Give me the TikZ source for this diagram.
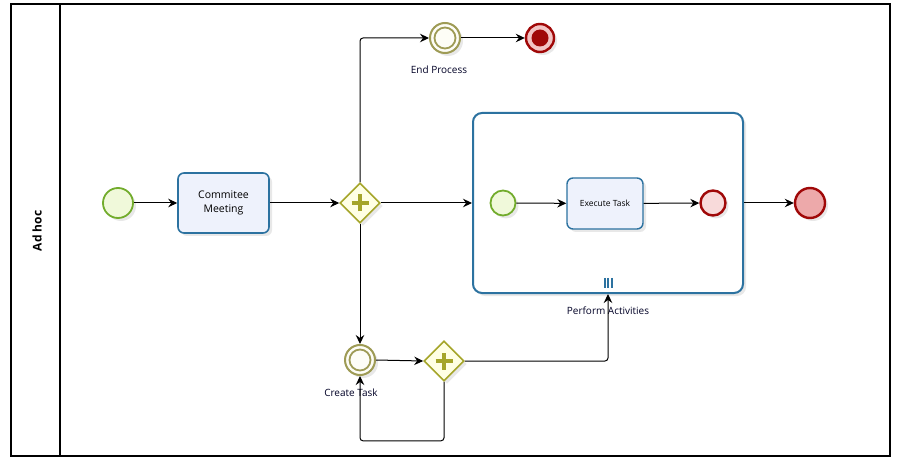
\documentclass[tikz,border=0pt]{standalone}
\usepackage{fontspec}
\setmainfont{Open Sans}
\usetikzlibrary{arrows.meta,shapes.geometric,shadows}
\definecolor{evgreen}{HTML}{72AC2C}
\definecolor{evgreenfill}{HTML}{F0F9DA}
\definecolor{taskblue}{HTML}{2C72A0}
\definecolor{taskfill}{HTML}{EEF2FC}
\definecolor{olive}{HTML}{A5A52A}
\definecolor{olivering}{HTML}{9E9B55}
\definecolor{olivefill}{HTML}{FFFFE4}
\definecolor{ringfill}{HTML}{FDFDF6}
\definecolor{endred}{HTML}{A00808}
\definecolor{endfill}{HTML}{EDA9AA}
\definecolor{endlight}{HTML}{F8DADA}
\definecolor{termring}{HTML}{F2C4C4}
\begin{document}
\begin{tikzpicture}[x=1pt,y=-1pt,
  shd/.style={drop shadow={opacity=0.18,shadow xshift=3pt,shadow yshift=-3pt}},
  flow/.style={draw=black,line width=1pt,rounded corners=3pt,
    -{Stealth[length=9pt,width=8.5pt,inset=3pt]}},
  startev/.style={circle,draw=evgreen,fill=evgreenfill,line width=1.8pt,inner sep=0pt,minimum size=#1,shd},
  endev/.style={circle,draw=endred,line width=2.4pt,inner sep=0pt,minimum size=#1,shd},
  interev/.style={circle,draw=olivering,fill=ringfill,line width=2pt,inner sep=0pt,minimum size=30,shd},
  innerring/.style={draw=olivering,line width=1.8pt},
  task/.style={rectangle,rounded corners=6pt,draw=taskblue,fill=taskfill,line width=1.6pt,align=center,inner sep=2pt,shd},
  gate/.style={diamond,draw=olive,fill=olivefill,line width=1.6pt,inner sep=0pt,minimum width=40,minimum height=40,shd},
  plusbar/.style={draw=olive,line width=4.5pt},
  lbl/.style={font=\fontsize{10}{12}\selectfont,text=black!85!blue}
]
\useasboundingbox (0,0) rectangle (899,462);
\fill[white] (0,0) rectangle (899,462);
% lane
\draw[line width=1.1pt] (11,4) rectangle (890,456);
\draw[line width=1.1pt] (60,4) -- (60,456);
\node[rotate=90,font=\bfseries\fontsize{12}{14}\selectfont] (lane) at (37,231) {Ad hoc};

% nodes
\node[startev=30] (start) at (118,203) {};
\node[task,minimum width=91,minimum height=60,font=\fontsize{10.5}{14}\selectfont] (meet) at (223.5,203) {Commitee\\Meeting};
\node[gate] (g1) at (360,203) {};
\node[interev] (endp) at (445,38) {};
\draw[innerring] (endp.center) circle (10.5);
\node[lbl] (endplbl) at (439,70) {End Process};
\node[circle,draw=endred,fill=termring,line width=2.4pt,inner sep=0pt,minimum size=28,shd] (term) at (540,38) {};
\fill[endred] (term.center) circle (8.5);
\node[rectangle,rounded corners=9pt,draw=taskblue,fill=white,line width=2pt,minimum width=270,minimum height=180,shd] (sp) at (608,203) {};
\node[lbl] (splbl) at (608,311) {Perform Activities};
\foreach \dx in {-3.5,0,3.5}
  \draw[taskblue,line width=2pt] (608+\dx,278) -- (608+\dx,288);
\node[startev=25] (istart) at (503,203) {};
\node[task,minimum width=76,minimum height=51,font=\fontsize{8.5}{10}\selectfont,line width=1.4pt] (exec) at (605,203.5) {Execute Task};
\node[endev=25,fill=endlight] (iend) at (713,203) {};
\node[endev=30,fill=endfill] (end) at (810,203) {};
\node[interev] (ct) at (360,360) {};
\draw[innerring] (ct.center) circle (10.5);
\node[lbl] (ctlbl) at (351,393) {Create Task};
\node[gate] (g2) at (444,361) {};

% plus markers
\foreach \g in {g1,g2}{
  \draw[plusbar] ([xshift=-8.5pt]\g.center) -- ([xshift=8.5pt]\g.center);
  \draw[plusbar] ([yshift=-8.5pt]\g.center) -- ([yshift=8.5pt]\g.center);
}

% flows
\draw[flow] (start) -- (meet);
\draw[flow] (meet) -- (g1);
\draw[flow] (g1.north) |- (endp.west);
\draw[flow] (endp) -- (term);
\draw[flow] (g1.east) -- (sp.west);
\draw[flow] (g1.south) -- (ct.north);
\draw[flow] (ct.east) -- (g2.west);
\draw[flow] (g2.east) -| (sp.south);
\draw[flow] (g2.south) -- ++(0,59) -| (ct.south);
\draw[flow] (istart) -- (exec);
\draw[flow] (exec) -- (iend);
\draw[flow] (sp.east) -- (end);
\end{tikzpicture}
\end{document}
